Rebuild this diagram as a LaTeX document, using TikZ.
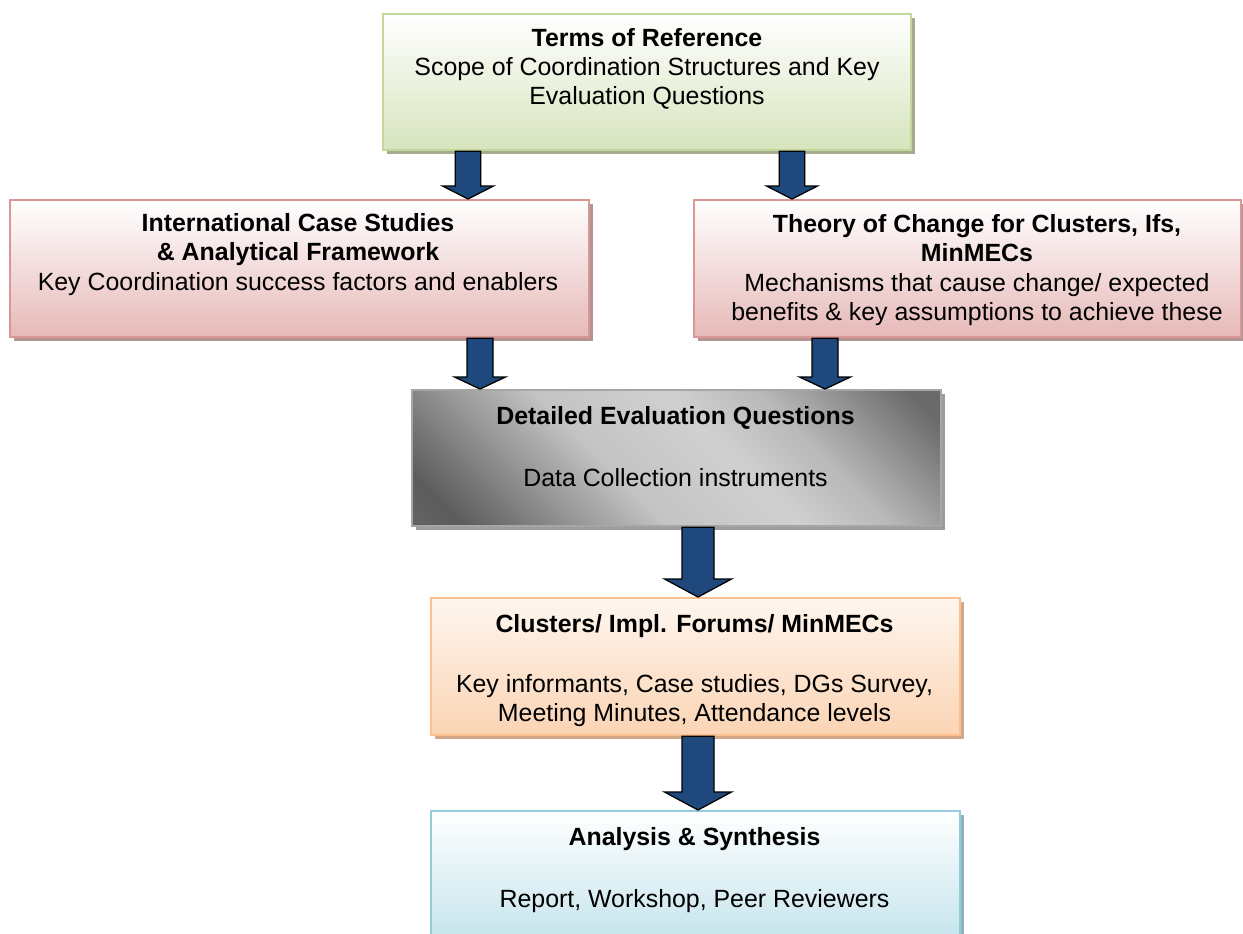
\documentclass[tikz,border=0pt]{standalone}
\usepackage{fontspec}
\setmainfont{Liberation Sans}
\usetikzlibrary{shadows,calc}
\definecolor{grnB}{HTML}{C3D69B}
\definecolor{grnF}{HTML}{D7E4BD}
\definecolor{grnS}{HTML}{A3AE8E}
\definecolor{pnkB}{HTML}{D99694}
\definecolor{pnkF}{HTML}{E6B9B8}
\definecolor{pnkS}{HTML}{B39492}
\definecolor{orgB}{HTML}{FAC090}
\definecolor{orgF}{HTML}{FBD4B4}
\definecolor{orgT}{HTML}{FEF6EF}
\definecolor{orgS}{HTML}{D2A888}
\definecolor{bluB}{HTML}{93CDDD}
\definecolor{bluF}{HTML}{B7DEE8}
\definecolor{bluS}{HTML}{8FB2BE}
\definecolor{gryB}{HTML}{A6A6A6}
\definecolor{gryS}{HTML}{9C9C9C}
\definecolor{arrB}{HTML}{1F497D}
\definecolor{mA}{HTML}{7A7A7A}
\definecolor{mB}{HTML}{5C5C5C}
\definecolor{mC}{HTML}{C4C4C4}
\definecolor{mD}{HTML}{D0D0D0}
\definecolor{mE}{HTML}{B8B8B8}
\definecolor{mF}{HTML}{6A6A6A}
\pgfdeclarehorizontalshading{metal}{100bp}{color(0bp)=(mA); color(20bp)=(mB); color(42bp)=(mC); color(56bp)=(mD); color(66bp)=(mE); color(82bp)=(mF); color(100bp)=(mF)}
\tikzset{
  box/.style={draw, line width=2.2pt, anchor=north west, inner sep=0pt},
  shadowed/.style={drop shadow={shadow xshift=4pt, shadow yshift=-4pt, fill=#1, opacity=1}},
  greenbox/.style={box, draw=grnB, top color=white, bottom color=grnF, shadowed=grnS},
  pinkbox/.style={box, draw=pnkB, top color=white, bottom color=pnkF, shadowed=pnkS},
  greybox/.style={box, draw=gryB, shading=metal, shading angle=45, shadowed=gryS},
  orangebox/.style={box, draw=orgB, top color=orgT, bottom color=orgF, shadowed=orgS},
  bluebox/.style={box, draw=bluB, top color=white, bottom color=bluF, shadowed=bluS},
  titletext/.style={font=\bfseries\fontsize{24.9}{28.6}\selectfont, anchor=base, inner sep=0pt},
  bodytext/.style={font=\fontsize{24.9}{28.6}\selectfont, anchor=base, inner sep=0pt},
  blockarrow/.style={draw=black, line width=1.3pt, fill=arrB, line join=miter}
}
\newcommand\blkarrow[5]{%
  \draw[blockarrow] ($(#1)+(-#3,0)$) -- ($(#2)+(-#3,-#5)$) -- ($(#2)+(-#4,-#5)$) -- (#2)
    -- ($(#2)+(#4,-#5)$) -- ($(#2)+(#3,-#5)$) -- ($(#1)+(#3,0)$) -- cycle;}
\begin{document}
\begin{tikzpicture}[x=1pt,y=-1pt]
\useasboundingbox (0,0) rectangle (1243,934);
\clip (0,0) rectangle (1243,934);
% boxes
\node[greenbox, minimum width=528pt, minimum height=136pt] (terms) at (382,13) {};
\node[pinkbox, minimum width=579pt, minimum height=137pt] (intl) at (9,199) {};
\node[pinkbox, minimum width=547pt, minimum height=137pt] (toc) at (693,199) {};
\node[greybox, minimum width=529pt, minimum height=136pt] (eval) at (411,389) {};
\node[orangebox, minimum width=529pt, minimum height=137pt] (clus) at (430,597) {};
\node[bluebox, minimum width=529pt, minimum height=160pt] (anal) at (430,810) {};
% texts
\node[titletext] (t1a) at (647,47) {Terms of Reference};
\node[bodytext] (t1b) at (647,76) {Scope of Coordination Structures and Key};
\node[bodytext] (t1c) at (647,105) {Evaluation Questions};
\node[titletext] (t2a) at (298,231) {International Case Studies};
\node[titletext] (t2b) at (298,260.5) {\& Analytical Framework};
\node[bodytext] (t2c) at (298,290) {Key Coordination success factors and enablers};
\node[titletext] (t3a) at (977,232) {Theory of Change for Clusters, Ifs,};
\node[titletext] (t3b) at (977,261.5) {MinMECs};
\node[bodytext] (t3c) at (977,291) {Mechanisms that cause change/ expected};
\node[bodytext] (t3d) at (977,320.5) {benefits \& key assumptions to achieve these};
\node[titletext] (t4a) at (675.5,424) {Detailed Evaluation Questions};
\node[bodytext] (t4b) at (675.5,486) {Data Collection instruments};
\node[titletext] (t5a) at (694.5,632) {Clusters/ Impl. Forums/ MinMECs};
\node[bodytext] (t5b) at (694.5,692) {Key informants, Case studies, DGs Survey,};
\node[bodytext] (t5c) at (694.5,721) {Meeting Minutes, Attendance levels};
\node[titletext] (t6a) at (694.5,845) {Analysis \& Synthesis};
\node[bodytext] (t6b) at (694.5,907) {Report, Workshop, Peer Reviewers};
% arrow end points
\coordinate (a1s) at (terms.south -| 468,0);
\coordinate (a1e) at (intl.north -| 468,0);
\coordinate (a2s) at (terms.south -| 792,0);
\coordinate (a2e) at (toc.north -| 792,0);
\coordinate (a3s) at (intl.south -| 480,0);
\coordinate (a3e) at (eval.north -| 480,0);
\coordinate (a4s) at (toc.south -| 825,0);
\coordinate (a4e) at (eval.north -| 825,0);
\coordinate (a5s) at (eval.south -| 698,0);
\coordinate (a5e) at (clus.north -| 698,0);
\coordinate (a6s) at (clus.south -| 698,0);
\coordinate (a6e) at (anal.north -| 698,0);
\blkarrow{a1s}{a1e}{12.75}{25.5}{13}
\blkarrow{a2s}{a2e}{12.75}{25.5}{13}
\blkarrow{a3s}{a3e}{13}{25.5}{12}
\blkarrow{a4s}{a4e}{13}{25.5}{12}
\blkarrow{a5s}{a5e}{16}{33.5}{18}
\blkarrow{a6s}{a6e}{16}{33.5}{18}
\end{tikzpicture}
\end{document}
